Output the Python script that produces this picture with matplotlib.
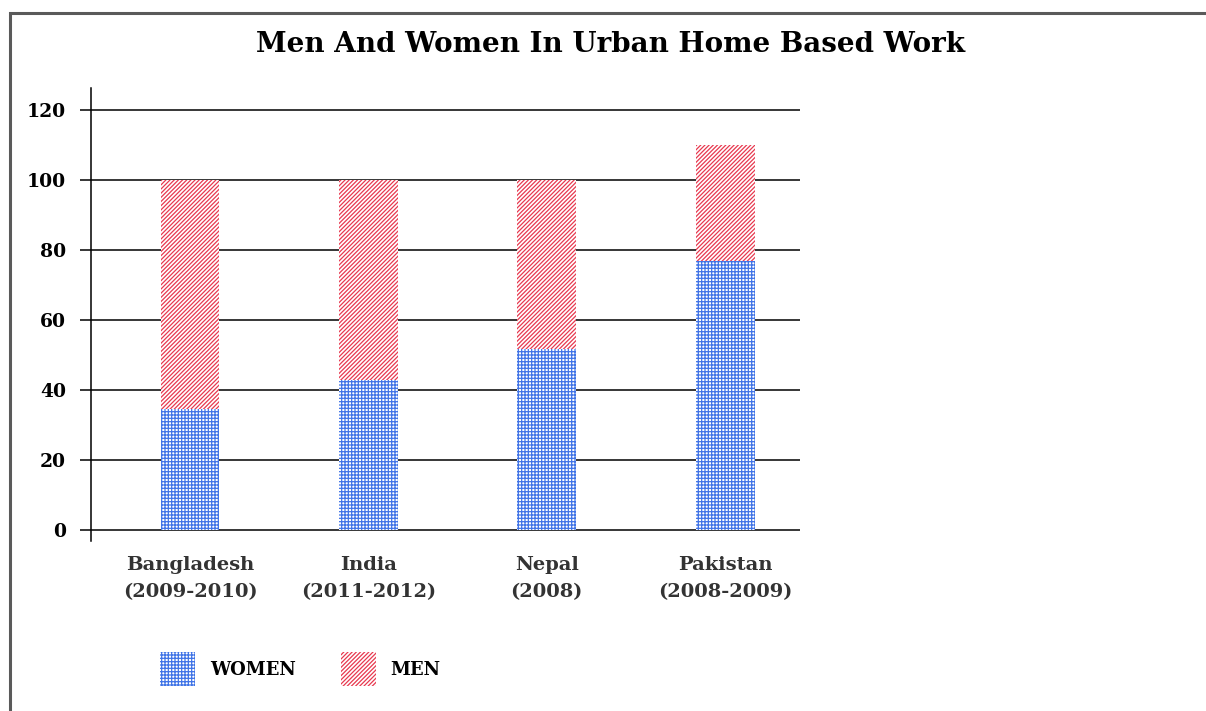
import matplotlib
import matplotlib.pyplot as plt
import numpy as np
from matplotlib.patches import Rectangle

matplotlib.use("Agg")

# chart values
countries = ["Bangladesh\n(2009-2010)", "India\n(2011-2012)", "Nepal\n(2008)", "Pakistan\n(2008-2009)"]
women = [34.5, 42.9, 51.7, 76.8]
men = [65.5, 57.1, 48.3, 33.2]
y_ticks = [0, 20, 40, 60, 80, 100, 120]
series = ["WOMEN", "MEN"]

BLUE = "#3f73e6"
RED = "#e8384f"
HATCH_W = "+++++"
HATCH_M = "////////"

plt.rcParams["font.family"] = ["DejaVu Serif"]
plt.rcParams["font.weight"] = "bold"
plt.rcParams["hatch.linewidth"] = 0.9

fig = plt.figure(figsize=(12.06, 7.11), dpi=100)
ax = fig.add_axes([91 / 1206, 170 / 711, 709 / 1206, 453 / 711])

x = np.arange(len(countries))
ax.bar(x, women, width=0.33, color="white", edgecolor=BLUE, linewidth=0,
       hatch=HATCH_W, label=series[0], zorder=3)
ax.bar(x, men, width=0.33, bottom=women, color="white", edgecolor=RED, linewidth=0,
       hatch=HATCH_M, label=series[1], zorder=3)

ax.set_xlim(-0.555, 3.42)
ax.set_ylim(-3.1, 126.3)
ax.set_yticks(y_ticks)
ax.set_xticks(x)
ax.set_xticklabels(countries, fontsize=14, color="#333333", fontweight="bold", linespacing=1.65)
ax.tick_params(axis="x", length=0, pad=11)
ax.tick_params(axis="y", length=8, width=1.1, pad=10, labelsize=13.5)
for lbl in ax.get_yticklabels():
    lbl.set_fontweight("bold")

ax.grid(axis="y", color="black", linewidth=1.1, zorder=1)
ax.set_axisbelow(True)
for s in ["top", "right", "bottom"]:
    ax.spines[s].set_visible(False)
ax.spines["left"].set_linewidth(1.1)

fig.text(611 / 1206, 1 - 44 / 711, "Men And Women In Urban Home Based Work",
         ha="center", va="center", fontsize=20, fontweight="bold")

# legend drawn by hand below the plot
W, H = 1206, 711
for (px, tx), name, col, hat in zip([(160, 210), (341, 390)], series, [BLUE, RED], [HATCH_W, HATCH_M]):
    fig.add_artist(Rectangle((px / W, 1 - 686 / H), 35 / W, 34 / H, transform=fig.transFigure,
                             facecolor="white", edgecolor=col, linewidth=0, hatch=hat))
    fig.text(tx / W, 1 - 670 / H, name, ha="left", va="center", fontsize=13, fontweight="bold")

# outer grey frame, running off the right and bottom edges
fig.add_artist(Rectangle((10 / 1206, -0.1), 1.2, 1 - 13 / 711 + 0.1, transform=fig.transFigure,
                         fill=False, edgecolor="#5a5a5a", linewidth=2.2, clip_on=False))

plt.savefig("out.png", dpi=100)
